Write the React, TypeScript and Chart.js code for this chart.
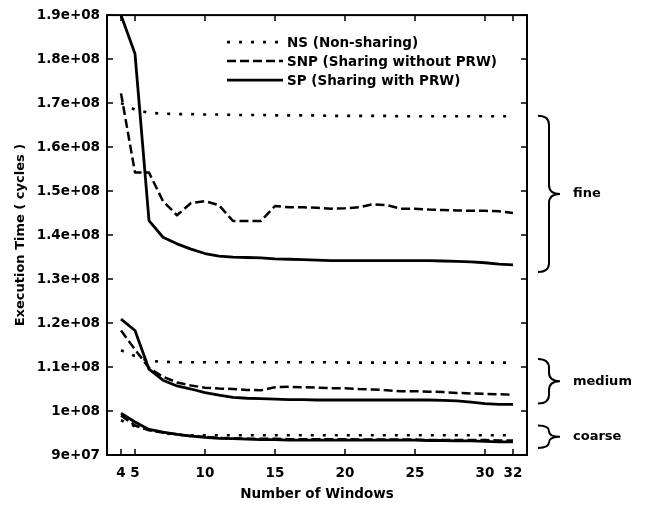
import React, { useEffect, useRef } from 'react';
import { Chart, registerables } from 'chart.js';

Chart.register(...registerables);

const windows = [4, 5, 6, 7, 8, 9, 10, 11, 12, 13, 14, 15, 16, 17, 18, 19, 20, 21, 22, 23, 24, 25, 26, 27, 28, 29, 30, 31, 32];
const xTickValues = [4, 5, 10, 15, 20, 25, 30, 32];

const seriesNames = ['NS (Non-sharing)', 'SNP (Sharing without PRW)', 'SP (Sharing with PRW)'];

// fine granularity
const nsFine = [1.700e8, 1.685e8, 1.678e8, 1.676e8, 1.675e8, 1.675e8, 1.674e8, 1.674e8, 1.673e8, 1.673e8, 1.673e8, 1.672e8, 1.672e8, 1.672e8, 1.672e8, 1.671e8, 1.671e8, 1.671e8, 1.671e8, 1.671e8, 1.670e8, 1.670e8, 1.670e8, 1.670e8, 1.670e8, 1.670e8, 1.670e8, 1.670e8, 1.670e8];
const snpFine = [1.722e8, 1.542e8, 1.542e8, 1.477e8, 1.445e8, 1.473e8, 1.477e8, 1.468e8, 1.432e8, 1.432e8, 1.432e8, 1.466e8, 1.463e8, 1.463e8, 1.462e8, 1.460e8, 1.461e8, 1.463e8, 1.470e8, 1.468e8, 1.460e8, 1.460e8, 1.458e8, 1.457e8, 1.456e8, 1.455e8, 1.455e8, 1.454e8, 1.450e8];
const spFine = [1.900e8, 1.812e8, 1.433e8, 1.395e8, 1.380e8, 1.368e8, 1.358e8, 1.352e8, 1.350e8, 1.349e8, 1.348e8, 1.346e8, 1.345e8, 1.344e8, 1.343e8, 1.342e8, 1.342e8, 1.342e8, 1.342e8, 1.342e8, 1.342e8, 1.342e8, 1.342e8, 1.341e8, 1.340e8, 1.339e8, 1.337e8, 1.334e8, 1.332e8];

// medium granularity
const nsMedium = [1.138e8, 1.125e8, 1.114e8, 1.112e8, 1.111e8, 1.111e8, 1.111e8, 1.111e8, 1.111e8, 1.111e8, 1.111e8, 1.111e8, 1.111e8, 1.111e8, 1.111e8, 1.111e8, 1.110e8, 1.110e8, 1.110e8, 1.110e8, 1.110e8, 1.110e8, 1.110e8, 1.110e8, 1.110e8, 1.110e8, 1.110e8, 1.110e8, 1.110e8];
const snpMedium = [1.183e8, 1.140e8, 1.098e8, 1.078e8, 1.065e8, 1.058e8, 1.053e8, 1.051e8, 1.050e8, 1.048e8, 1.047e8, 1.054e8, 1.055e8, 1.054e8, 1.053e8, 1.052e8, 1.052e8, 1.050e8, 1.049e8, 1.047e8, 1.045e8, 1.045e8, 1.044e8, 1.043e8, 1.041e8, 1.040e8, 1.039e8, 1.038e8, 1.037e8];
const spMedium = [1.209e8, 1.183e8, 1.095e8, 1.070e8, 1.057e8, 1.050e8, 1.042e8, 1.036e8, 1.031e8, 1.029e8, 1.028e8, 1.027e8, 1.026e8, 1.026e8, 1.025e8, 1.025e8, 1.025e8, 1.025e8, 1.025e8, 1.025e8, 1.025e8, 1.025e8, 1.025e8, 1.024e8, 1.023e8, 1.020e8, 1.017e8, 1.015e8, 1.015e8];

// coarse granularity
const nsCoarse = [0.979e8, 0.965e8, 0.958e8, 0.950e8, 0.946e8, 0.945e8, 0.945e8, 0.945e8, 0.945e8, 0.945e8, 0.945e8, 0.945e8, 0.945e8, 0.945e8, 0.945e8, 0.945e8, 0.945e8, 0.945e8, 0.945e8, 0.945e8, 0.945e8, 0.945e8, 0.945e8, 0.945e8, 0.945e8, 0.945e8, 0.945e8, 0.945e8, 0.945e8];
const snpCoarse = [0.990e8, 0.967e8, 0.956e8, 0.951e8, 0.947e8, 0.943e8, 0.941e8, 0.939e8, 0.938e8, 0.937e8, 0.937e8, 0.937e8, 0.936e8, 0.936e8, 0.936e8, 0.936e8, 0.936e8, 0.935e8, 0.935e8, 0.935e8, 0.935e8, 0.935e8, 0.934e8, 0.934e8, 0.934e8, 0.934e8, 0.934e8, 0.933e8, 0.933e8];
const spCoarse = [0.995e8, 0.975e8, 0.958e8, 0.952e8, 0.947e8, 0.943e8, 0.940e8, 0.938e8, 0.937e8, 0.936e8, 0.935e8, 0.935e8, 0.934e8, 0.934e8, 0.934e8, 0.934e8, 0.934e8, 0.934e8, 0.934e8, 0.934e8, 0.934e8, 0.934e8, 0.933e8, 0.933e8, 0.932e8, 0.932e8, 0.931e8, 0.930e8, 0.930e8];

const braceLabels = ['fine', 'medium', 'coarse'];
const braceTop = [1.671e8, 1.118e8, 0.967e8];
const braceBottom = [1.316e8, 1.017e8, 0.916e8];

const FAMILY = '"DejaVu Sans", "Liberation Sans", sans-serif';

export default function App() {
  const ref = useRef<HTMLCanvasElement>(null);

  useEffect(() => {
    const canvas = ref.current;
    if (!canvas) return;

    const styles = [
      { borderDash: [3, 9], borderWidth: 2.6 },
      { borderDash: [9, 4], borderWidth: 2.5 },
      { borderDash: [] as number[], borderWidth: 2.8 },
    ];
    const groups = [
      [nsFine, snpFine, spFine],
      [nsMedium, snpMedium, spMedium],
      [nsCoarse, snpCoarse, spCoarse],
    ];
    const datasets: any[] = [];
    groups.forEach((g) =>
      g.forEach((arr, si) => {
        datasets.push({
          label: seriesNames[si],
          data: windows.map((w, i) => ({ x: w, y: arr[i] })),
          borderColor: '#000',
          backgroundColor: '#000',
          pointRadius: 0,
          tension: 0,
          fill: false,
          borderCapStyle: 'butt',
          borderJoinStyle: 'round',
          borderDash: styles[si].borderDash,
          borderWidth: styles[si].borderWidth,
        });
      })
    );

    const decor = {
      id: 'decor',
      afterDraw(chart: any) {
        const { ctx, chartArea } = chart;
        const xs = chart.scales.x;
        const ys = chart.scales.y;
        const { left, right, top, bottom } = chartArea;
        ctx.save();
        ctx.strokeStyle = '#000';
        ctx.fillStyle = '#000';
        ctx.setLineDash([]);
        // frame
        ctx.lineWidth = 2;
        ctx.strokeRect(left, top, right - left, bottom - top);
        // inward ticks
        ctx.lineWidth = 1.5;
        ctx.beginPath();
        xTickValues.forEach((v) => {
          const px = xs.getPixelForValue(v);
          ctx.moveTo(px, bottom);
          ctx.lineTo(px, bottom - 6);
          ctx.moveTo(px, top);
          ctx.lineTo(px, top + 6);
        });
        ys.ticks.forEach((t: any) => {
          const py = ys.getPixelForValue(t.value);
          ctx.moveTo(left, py);
          ctx.lineTo(left + 6, py);
          ctx.moveTo(right, py);
          ctx.lineTo(right - 6, py);
        });
        ctx.stroke();

        // legend
        ctx.font = `bold 13.5px ${FAMILY}`;
        ctx.textBaseline = 'middle';
        ctx.textAlign = 'left';
        const lx0 = left + 120;
        const lx1 = left + 176;
        seriesNames.forEach((name, si) => {
          const ly = top + 27 + si * 19;
          ctx.lineWidth = styles[si].borderWidth;
          ctx.setLineDash(styles[si].borderDash);
          ctx.beginPath();
          ctx.moveTo(lx0, ly);
          ctx.lineTo(lx1, ly);
          ctx.stroke();
          ctx.setLineDash([]);
          ctx.fillText(name, lx1 + 4, ly + 1);
        });

        // braces
        const xl = right + 11;
        const xsp = right + 22;
        const xt = right + 33;
        ctx.lineWidth = 2;
        ctx.font = `bold 13px ${FAMILY}`;
        braceLabels.forEach((lab, i) => {
          const t = ys.getPixelForValue(braceTop[i]);
          const b = ys.getPixelForValue(braceBottom[i]);
          const m = (t + b) / 2;
          const r = Math.min(9, (b - t) / 4);
          ctx.beginPath();
          ctx.moveTo(xl, t);
          ctx.quadraticCurveTo(xsp, t, xsp, t + r);
          ctx.lineTo(xsp, m - r);
          ctx.quadraticCurveTo(xsp, m, xt, m);
          ctx.quadraticCurveTo(xsp, m, xsp, m + r);
          ctx.lineTo(xsp, b - r);
          ctx.quadraticCurveTo(xsp, b, xl, b);
          ctx.stroke();
          ctx.fillText(lab, right + 46, m);
        });
        ctx.restore();
      },
    };

    const chart = new Chart(canvas, {
      type: 'line',
      data: { datasets },
      options: {
        animation: false,
        responsive: false,
        layout: { padding: { top: 10, right: 118, bottom: 0, left: 0 } },
        plugins: {
          legend: { display: false },
          tooltip: { enabled: false },
        },
        scales: {
          x: {
            type: 'linear',
            min: 3,
            max: 33,
            afterBuildTicks: (s: any) => {
              s.ticks = xTickValues.map((v) => ({ value: v }));
            },
            afterFit: (s: any) => {
              s.height = 52;
            },
            grid: { display: false, drawTicks: false },
            border: { display: false },
            ticks: {
              autoSkip: false,
              maxRotation: 0,
              padding: 10,
              color: '#000',
              font: { family: FAMILY, size: 13.5, weight: 'bold' },
            },
            title: {
              display: true,
              text: 'Number of Windows',
              color: '#000',
              font: { family: FAMILY, size: 13.5, weight: 'bold' },
              padding: { top: 0, bottom: 4 },
            },
          },
          y: {
            type: 'linear',
            min: 9e7,
            max: 1.9e8,
            afterFit: (s: any) => {
              s.width = 107;
            },
            grid: { display: false, drawTicks: false },
            border: { display: false },
            ticks: {
              stepSize: 1e7,
              padding: 7,
              color: '#000',
              font: { family: FAMILY, size: 13.5, weight: 'bold' },
              callback: (v: any) => {
                const s = parseFloat(Number(v).toPrecision(3)).toExponential();
                return s.replace(/e([+-])(\d)$/, (_m: string, sg: string, d: string) => `e${sg}0${d}`);
              },
            },
            title: {
              display: true,
              text: 'Execution Time ( cycles )',
              color: '#000',
              font: { family: FAMILY, size: 13, weight: 'bold' },
              padding: { top: 13, bottom: 0 },
            },
          },
        },
      },
      plugins: [decor],
    });

    return () => chart.destroy();
  }, []);

  return (
    <canvas
      ref={ref}
      width={645}
      height={507}
      style={{ position: 'absolute', left: 0, top: 0, display: 'block', background: '#fff' }}
    />
  );
}
